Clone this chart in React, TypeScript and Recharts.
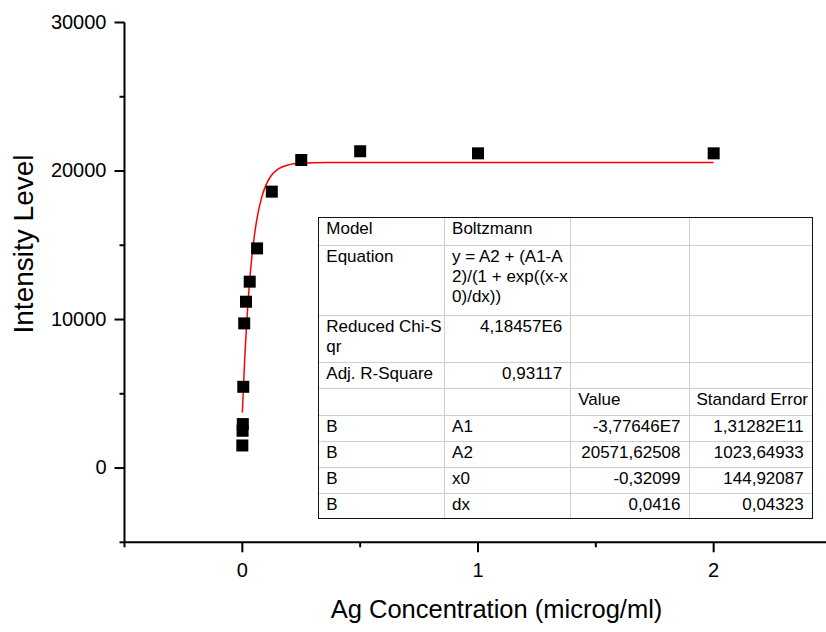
import { ComposedChart, Line, Scatter, XAxis, YAxis } from 'recharts';

// measured points
const concentration = [0, 0.001, 0.002, 0.004, 0.008, 0.0156, 0.0313, 0.0625, 0.125, 0.25, 0.5, 1, 2];
const intensity = [1520, 2510, 2960, 5470, 9740, 11200, 12550, 14790, 18610, 20740, 21330, 21190, 21190];

// Boltzmann fit curve
const fitConcentration = [0, 0.01, 0.02, 0.03, 0.04, 0.05, 0.06, 0.08, 0.1, 0.12, 0.15, 0.2, 0.25, 0.3, 0.4, 0.6, 1, 2];
const fitIntensity = [3740, 7340, 10170, 12390, 14140, 15510, 16590, 18110, 19050, 19630, 20110, 20430, 20530, 20560, 20570, 20572, 20572, 20572];

const xTicks = [-0.5, 0, 0.5, 1, 1.5, 2, 2.5];
const xMajor = [0, 1, 2];
const yTicks = [-5000, 0, 5000, 10000, 15000, 20000, 25000, 30000];
const yMajor = [0, 10000, 20000, 30000];

// fit results table
const tableRows = [
  ['Model', 'Boltzmann', '', ''],
  ['Equation', 'y = A2 + (A1-A\n2)/(1 + exp((x-x\n0)/dx))', '', ''],
  ['Reduced Chi-S\nqr', '4,18457E6', '', ''],
  ['Adj. R-Square', '0,93117', '', ''],
  ['', '', 'Value', 'Standard Error'],
  ['B', 'A1', '-3,77646E7', '1,31282E11'],
  ['B', 'A2', '20571,62508', '1023,64933'],
  ['B', 'x0', '-0,32099', '144,92087'],
  ['B', 'dx', '0,0416', '0,04323'],
];
const rowHeights = [27.7, 69.7, 47.7, 26, 26.3, 26, 26, 26.7, 24.7];
const colWidths = [125, 126, 118, 122.4];

const FONT = '"Liberation Sans", Arial, sans-serif';

const points = concentration.map((x, i) => ({ x, y: intensity[i] }));
const fit = fitConcentration.map((x, i) => ({ x, y: fitIntensity[i] }));

const YTick = (props: any) => {
  const { x, y, payload } = props;
  const major = yMajor.includes(payload.value);
  return (
    <g>
      <line x1={x} x2={x - (major ? 10 : 5)} y1={y} y2={y} stroke="#000" strokeWidth={2} />
      {major && (
        <text x={x - 18} y={y - 1} dy="0.36em" textAnchor="end" fontSize={20} fontFamily={FONT} fill="#000">
          {payload.value}
        </text>
      )}
    </g>
  );
};

const XTick = (props: any) => {
  const { x, y, payload } = props;
  const major = xMajor.includes(payload.value);
  return (
    <g>
      <line x1={x} x2={x} y1={y} y2={y + (major ? 10 : 5)} stroke="#000" strokeWidth={2} />
      {major && (
        <text x={x} y={y + 35} textAnchor="middle" fontSize={20} fontFamily={FONT} fill="#000">
          {payload.value}
        </text>
      )}
    </g>
  );
};

const Square = (props: any) => {
  const { cx, cy } = props;
  return <rect x={cx - 6} y={cy - 6} width={12} height={12} fill="#000" />;
};

const YTitle = () => (
  <text x={33} y={244} transform="rotate(-90 33 244)" textAnchor="middle" fontSize={28} fontFamily={FONT} fill="#000">
    Intensity Level
  </text>
);

const XTitle = () => (
  <text x={496.5} y={618} textAnchor="middle" fontSize={25.5} fontFamily={FONT} fill="#000">
    Ag Concentration (microg/ml)
  </text>
);

const FitTable = () => (
  <div
    style={{
      position: 'absolute',
      left: 318.3,
      top: 216.7,
      width: 494.4,
      border: '1.5px solid #111',
      background: '#fff',
      boxSizing: 'border-box',
    }}
  >
    <table
      style={{
        width: '100%',
        borderCollapse: 'collapse',
        tableLayout: 'fixed',
        fontFamily: FONT,
        fontSize: 17,
        color: '#000',
      }}
    >
      <colgroup>
        {colWidths.map((w, i) => (
          <col key={i} style={{ width: w }} />
        ))}
      </colgroup>
      <tbody>
        {tableRows.map((row, r) => (
          <tr key={r} style={{ height: rowHeights[r] }}>
            {row.map((cell, c) => {
              const numeric = (r === 2 || r === 3) && c === 1 ? true : r >= 5 && c >= 2;
              return (
                <td
                  key={c}
                  style={{
                    padding: '1px 8px 0 7px',
                    verticalAlign: 'top',
                    lineHeight: '20px',
                    whiteSpace: 'pre',
                    textAlign: numeric ? 'right' : 'left',
                    borderRight: c < row.length - 1 ? '1.5px solid #cfcfcf' : 'none',
                    borderBottom: r < tableRows.length - 1 ? '1.5px solid #cfcfcf' : 'none',
                    boxSizing: 'border-box',
                    overflow: 'hidden',
                  }}
                >
                  {cell}
                </td>
              );
            })}
          </tr>
        ))}
      </tbody>
    </table>
  </div>
);

export default function App() {
  return (
    <div style={{ position: 'absolute', left: 0, top: 0, width: 826, height: 632, overflow: 'hidden', background: '#fff' }}>
      <ComposedChart width={834} height={632} margin={{ top: 22.5, right: 2.5, bottom: 0, left: 0 }}>
        <XAxis
          type="number"
          dataKey="x"
          domain={[-0.5, 2.5]}
          ticks={xTicks}
          interval={0}
          allowDataOverflow
          height={89.7}
          axisLine={{ stroke: '#000', strokeWidth: 2 }}
          tickLine={false}
          tickSize={0}
          tickMargin={0}
          tick={<XTick />}
          label={<XTitle />}
        />
        <YAxis
          type="number"
          dataKey="y"
          domain={[-5000, 30000]}
          ticks={yTicks}
          interval={0}
          allowDataOverflow
          width={124.5}
          axisLine={{ stroke: '#000', strokeWidth: 2 }}
          tickLine={false}
          tickSize={0}
          tickMargin={0}
          tick={<YTick />}
          label={<YTitle />}
        />
        <Line
          data={fit}
          dataKey="y"
          type="monotone"
          stroke="#ff0000"
          strokeWidth={1.5}
          dot={false}
          activeDot={false}
          isAnimationActive={false}
        />
        <Scatter data={points} dataKey="y" shape={<Square />} isAnimationActive={false} />
      </ComposedChart>
      <FitTable />
    </div>
  );
}
